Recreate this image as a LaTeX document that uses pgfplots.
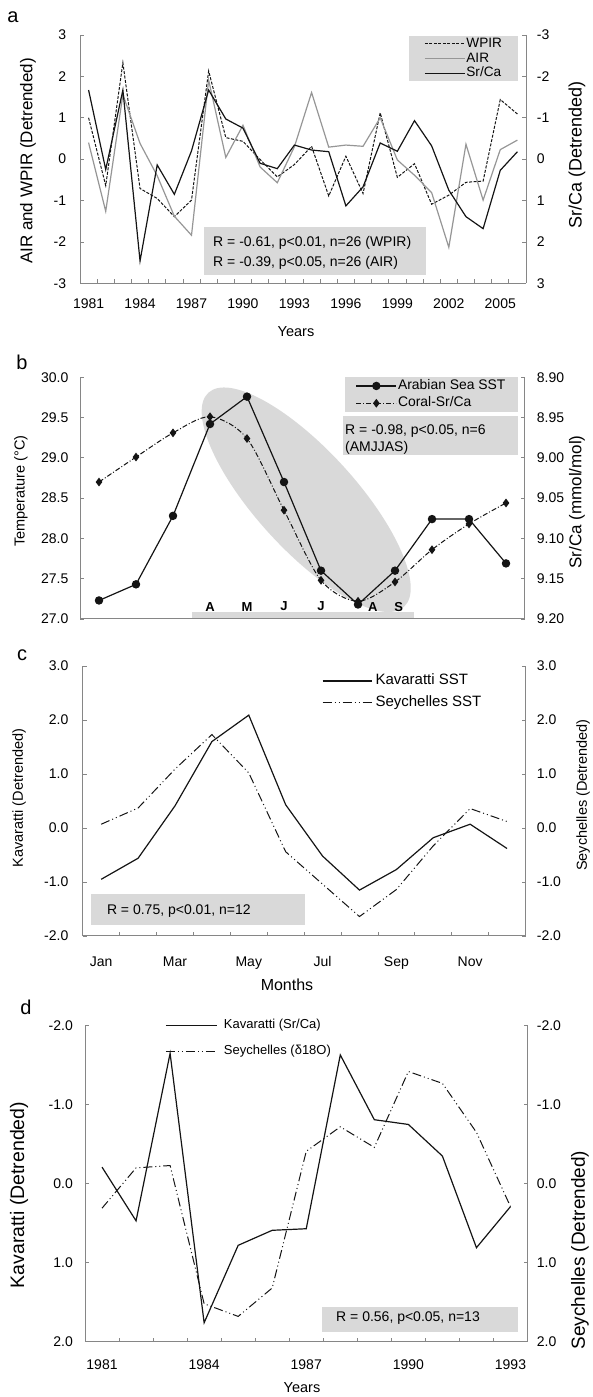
\documentclass[border=0pt]{standalone}
\usepackage{fontspec}
\setmainfont{Liberation Sans}
\usepackage{pgfplots}
\pgfplotsset{compat=1.18}
\usetikzlibrary{shapes.geometric}
\definecolor{axgray}{RGB}{134,134,134}
\definecolor{boxgray}{RGB}{217,217,217}
\definecolor{airgray}{RGB}{150,150,150}
\definecolor{ln}{RGB}{20,20,20}
\newcommand{\fs}[1]{\fontsize{#1}{#1}\selectfont}

\pgfplotsset{
  base/.style={
    scale only axis, clip=false,
    axis line style={axgray, line width=1pt, -},
    tick style={axgray, line width=0.8pt},
    tick align=inside,
    major tick length=0pt, minor tick length=4pt,
    tick label style={font=\fs{14}},
    /pgf/number format/assume math mode=true,
    /pgf/number format/1000 sep={},
    legend cell align=left,
  },
  leftax/.style={base, axis x line*=bottom, axis y line*=left},
  rightax/.style={base, axis x line=none, axis y line*=right},
  limg/.style={legend image code/.code={\draw[mark repeat=2,mark phase=2,##1] plot coordinates {(0pt,0pt) (#1/2,0pt) (#1,0pt)};}},
  sey/.style={ln, line width=1pt, dash pattern=on 9pt off 3pt on 1pt off 3pt on 1pt off 3pt},
  coral/.style={ln, line width=1pt, dash pattern=on 5pt off 2pt on 1pt off 2pt},
}

\begin{document}
\begin{tikzpicture}
\useasboundingbox (0,0) rectangle (592pt,1397pt);

% ================= Panel a =================
\begin{axis}[leftax, limg=40pt, at={(80pt,1113.7pt)}, anchor=south west, width=446pt, height=248.3pt,
  xmin=1980.5, xmax=2006.5, ymin=-3, ymax=3,
  xtick={1981,1984,...,2005}, minor xtick={1981.5,1982.5,...,2005.5},
  ytick={-3,...,3}, minor ytick={-3,...,3},
  xticklabel style={yshift=-12pt}, yticklabel style={xshift=-10.3pt},
  legend style={at={(axis description cs:0.982,0.996)}, anchor=north east, fill=boxgray, draw=none,
    font=\fs{13.6}, inner xsep=15pt, inner ysep=0.3pt, row sep=0pt,
    nodes={text height=10pt, text depth=3pt, inner sep=0.85pt}}]
\addplot[ln, line width=1pt, dash pattern=on 3pt off 1.5pt] coordinates {
(1981,1.00) (1982,-0.64) (1983,2.33) (1984,-0.71) (1985,-0.95) (1986,-1.39) (1987,-0.99)
(1988,2.13) (1989,0.52) (1990,0.43) (1991,-0.01) (1992,-0.43) (1993,-0.13) (1994,0.31)
(1995,-0.89) (1996,0.07) (1997,-0.83) (1998,1.12) (1999,-0.44) (2000,-0.11) (2001,-1.09)
(2002,-0.87) (2003,-0.56) (2004,-0.53) (2005,1.44) (2006,1.09)};
\addlegendentry{WPIR}
\addplot[airgray, line width=1.2pt] coordinates {
(1981,0.40) (1982,-1.26) (1983,1.56) (1984,0.38) (1985,-0.40) (1986,-1.38) (1987,-1.84)
(1988,1.91) (1989,0.04) (1990,0.82) (1991,-0.19) (1992,-0.57) (1993,0.30) (1994,1.61)
(1995,0.29) (1996,0.34) (1997,0.31) (1998,1.00) (1999,-0.02) (2000,-0.39) (2001,-0.81)
(2002,-2.13) (2003,0.36) (2004,-0.99) (2005,0.23) (2006,0.46)};
\addlegendentry{AIR}
\addlegendimage{ln, line width=1.2pt}
\addlegendentry{Sr/Ca}
\end{axis}
\begin{axis}[rightax, at={(80pt,1113.7pt)}, anchor=south west, width=446pt, height=248.3pt,
  xmin=1980.5, xmax=2006.5, ymin=-3, ymax=3, y dir=reverse,
  ytick={-3,...,3}, minor ytick={-3,...,3}, yticklabel style={xshift=7.3pt}]
\addplot[ln, line width=1.2pt] coordinates {
(1981,-1.67) (1982,0.25) (1983,-1.67) (1984,2.46) (1985,0.14) (1986,0.85) (1987,-0.20)
(1988,-1.67) (1989,-0.97) (1990,-0.75) (1991,0.10) (1992,0.23) (1993,-0.34) (1994,-0.22)
(1995,-0.18) (1996,1.13) (1997,0.67) (1998,-0.39) (1999,-0.19) (2000,-0.93) (2001,-0.32)
(2002,0.75) (2003,1.39) (2004,1.68) (2005,0.27) (2006,-0.18)};
\end{axis}

% ================= Panel b =================
\begin{axis}[leftax, limg=40pt, at={(80.5pt,778pt)}, anchor=south west, width=444pt, height=241.7pt,
  xmin=0.5, xmax=12.5, ymin=27, ymax=30,
  xtick=\empty, minor xtick={1.5,2.5,...,11.5},
  ytick={27,27.5,...,30}, minor ytick={27,27.5,...,30},
  yticklabel style={xshift=-8.6pt, /pgf/number format/.cd, fixed, fixed zerofill, precision=1},
  legend style={at={(axis description cs:0.985,1.002)}, anchor=north east, fill=boxgray, draw=none,
    font=\fs{13.9}, inner xsep=11pt, inner ysep=0.3pt, row sep=0pt,
    nodes={text height=11pt, text depth=4pt, inner sep=1.15pt}}]
\node[ellipse, fill=boxgray, minimum width=290pt, minimum height=100pt, inner sep=0pt, rotate=-47.6] at (axis cs:6.6,28.48) {};
\fill[boxgray] (axis cs:3.5,27.012) rectangle (axis cs:9.5,27.085);
\node[font=\bfseries\fs{13}] at (axis cs:4,27.154) {A};
\node[font=\bfseries\fs{13}] at (axis cs:5,27.154) {M};
\node[font=\bfseries\fs{13}] at (axis cs:6,27.154) {J};
\node[font=\bfseries\fs{13}] at (axis cs:7,27.154) {J};
\node[font=\bfseries\fs{13}] at (axis cs:8.4,27.154) {A};
\node[font=\bfseries\fs{13}] at (axis cs:9.1,27.154) {S};
\addplot[ln, line width=1.2pt, mark=*, mark size=3.6pt, mark options={solid, fill=ln}] coordinates {
(1,27.23) (2,27.43) (3,28.28) (4,29.42) (5,29.76) (6,28.70) (7,27.60) (8,27.18) (9,27.60)
(10,28.24) (11,28.24) (12,27.69)};
\addlegendentry{Arabian Sea SST}
\addlegendimage{coral, mark=diamond*, mark size=3.6pt, mark options={solid, fill=ln}}
\addlegendentry{Coral-Sr/Ca}
\end{axis}
\begin{axis}[rightax, at={(80.5pt,778pt)}, anchor=south west, width=444pt, height=241.7pt,
  xmin=0.5, xmax=12.5, ymin=8.90, ymax=9.20, y dir=reverse,
  ytick={8.90,8.95,9.00,9.05,9.10,9.15,9.20}, minor ytick={8.90,8.95,9.00,9.05,9.10,9.15,9.20},
  yticklabel style={xshift=8.8pt, /pgf/number format/.cd, fixed, fixed zerofill, precision=2}]
\addplot[coral, smooth, mark=diamond*, mark size=3.6pt, mark options={solid, fill=ln}] coordinates {
(1,9.030) (2,8.999) (3,8.969) (4,8.949) (5,8.976) (6,9.065) (7,9.152) (8,9.178) (9,9.154)
(10,9.114) (11,9.082) (12,9.056)};
\end{axis}

% ================= Panel c =================
\begin{axis}[leftax, limg=49pt, at={(82.75pt,461pt)}, anchor=south west, width=442.75pt, height=270pt,
  xmin=0.5, xmax=12.5, ymin=-2, ymax=3,
  xtick={1,3,...,11}, xticklabels={Jan,Mar,May,Jul,Sep,Nov}, minor xtick={1.5,2.5,...,11.5},
  ytick={-2,...,3}, minor ytick={-2,...,3},
  xticklabel style={yshift=-17pt},
  yticklabel style={xshift=-10.9pt, /pgf/number format/.cd, fixed, fixed zerofill, precision=1},
  legend style={at={(axis description cs:0.540,0.985)}, anchor=north west, fill=none, draw=none,
    font=\fs{15}, inner sep=0pt, row sep=0pt,
    nodes={text height=11pt, text depth=4pt, inner sep=3.3pt}}]
\addplot[ln, line width=1.2pt] coordinates {
(1,-0.95) (2,-0.56) (3,0.41) (4,1.60) (5,2.09) (6,0.43) (7,-0.52) (8,-1.15) (9,-0.77)
(10,-0.18) (11,0.07) (12,-0.38)};
\addlegendentry{Kavaratti SST}
\addlegendimage{sey}
\addlegendentry{Seychelles SST}
\end{axis}
\begin{axis}[rightax, at={(82.75pt,461pt)}, anchor=south west, width=442.75pt, height=270pt,
  xmin=0.5, xmax=12.5, ymin=-2, ymax=3,
  ytick={-2,...,3}, minor ytick={-2,...,3},
  yticklabel style={xshift=7.8pt, /pgf/number format/.cd, fixed, fixed zerofill, precision=1}]
\addplot[sey] coordinates {
(1,0.07) (2,0.37) (3,1.09) (4,1.73) (5,1.02) (6,-0.44) (7,-1.04) (8,-1.64) (9,-1.14)
(10,-0.33) (11,0.36) (12,0.12)};
\end{axis}

% ================= Panel d =================
\begin{axis}[leftax, limg=51pt, at={(85pt,55.3pt)}, anchor=south west, width=442.5pt, height=316pt,
  xmin=1980.5, xmax=1993.5, ymin=-2, ymax=2, y dir=reverse,
  xtick={1981,1984,...,1993}, minor xtick={1981.5,1982.5,...,1992.5},
  ytick={-2,...,2}, minor ytick={-2,...,2},
  xticklabel style={yshift=-14.6pt},
  yticklabel style={xshift=-8.6pt, /pgf/number format/.cd, fixed, fixed zerofill, precision=1},
  legend style={at={(axis description cs:0.181,1.043)}, anchor=north west, fill=none, draw=none,
    font=\fs{13}, inner sep=0pt, row sep=0pt,
    nodes={text height=10pt, text depth=3pt, inner sep=6.5pt}}]
\addplot[ln, line width=1.2pt] coordinates {
(1981,-0.21) (1982,0.47) (1983,-1.65) (1984,1.76) (1985,0.78) (1986,0.59) (1987,0.57)
(1988,-1.63) (1989,-0.81) (1990,-0.75) (1991,-0.35) (1992,0.81) (1993,0.29)};
\addlegendentry{Kavaratti (Sr/Ca)}
\addlegendimage{sey}
\addlegendentry{Seychelles (δ18O)}
\end{axis}
\begin{axis}[rightax, at={(85pt,55.3pt)}, anchor=south west, width=442.5pt, height=316pt,
  xmin=1980.5, xmax=1993.5, ymin=-2, ymax=2, y dir=reverse,
  ytick={-2,...,2}, minor ytick={-2,...,2},
  yticklabel style={xshift=5.8pt, /pgf/number format/.cd, fixed, fixed zerofill, precision=1}]
\addplot[sey] coordinates {
(1981,0.31) (1982,-0.20) (1983,-0.23) (1984,1.52) (1985,1.68) (1986,1.32) (1987,-0.41)
(1988,-0.72) (1989,-0.46) (1990,-1.42) (1991,-1.27) (1992,-0.65) (1993,0.29)};
\end{axis}

% ================= annotations (image coordinates) =================
\begin{scope}[shift={(0pt,1397pt)}, yscale=-1]
% panel letters
\node[font=\fs{20}] at (13pt,17pt) {a};
\node[font=\fs{20}] at (22pt,362pt) {b};
\node[font=\fs{20}] at (22pt,655pt) {c};
\node[font=\fs{20}] at (26pt,1007pt) {d};
% panel a
\node[font=\fs{17}, rotate=90] at (28pt,161pt) {AIR and WPIR (Detrended)};
\node[font=\fs{18}, rotate=90] at (577pt,155pt) {Sr/Ca (Detrended)};
\node[font=\fs{14.5}] at (296pt,331.7pt) {Years};
\fill[boxgray] (204pt,227pt) rectangle (426pt,275pt);
\node[anchor=base west, inner sep=0pt, font=\fs{14}] at (213pt,247pt) {R = -0.61, p<0.01, n=26 (WPIR)};
\node[anchor=base west, inner sep=0pt, font=\fs{14}] at (213pt,267pt) {R = -0.39, p<0.05, n=26 (AIR)};
% panel b
\node[font=\fs{14.5}, rotate=90] at (21pt,491pt) {Temperature (°C)};
\node[font=\fs{17}, rotate=90] at (577pt,502pt) {Sr/Ca (mmol/mol)};
\fill[boxgray] (343.3pt,416pt) rectangle (518.3pt,455pt);
\node[anchor=base west, inner sep=0pt, font=\fs{14}] at (345pt,435pt) {R = -0.98, p<0.05, n=6};
\node[anchor=base west, inner sep=0pt, font=\fs{14}] at (345pt,451.7pt) {(AMJJAS)};
% panel c
\node[font=\fs{14.5}, rotate=90] at (19pt,798pt) {Kavaratti (Detrended)};
\node[font=\fs{14.5}, rotate=90] at (583pt,795pt) {Seychelles (Detrended)};
\node[font=\fs{16}] at (287pt,985pt) {Months};
\fill[boxgray] (91.4pt,894pt) rectangle (305pt,925pt);
\node[anchor=base west, inner sep=0pt, font=\fs{14}] at (106.8pt,915pt) {R = 0.75, p<0.01, n=12};
% panel d
\node[font=\fs{19.5}, rotate=90] at (19pt,1195pt) {Kavaratti (Detrended)};
\node[font=\fs{19}, rotate=90] at (580pt,1250pt) {Seychelles (Detrended)};
\node[font=\fs{14.5}] at (302pt,1387.7pt) {Years};
\fill[boxgray] (321.7pt,1307.3pt) rectangle (518.4pt,1331.7pt);
\node[anchor=base west, inner sep=0pt, font=\fs{14}] at (336pt,1321.7pt) {R = 0.56, p<0.05, n=13};
\end{scope}
\end{tikzpicture}
\end{document}
